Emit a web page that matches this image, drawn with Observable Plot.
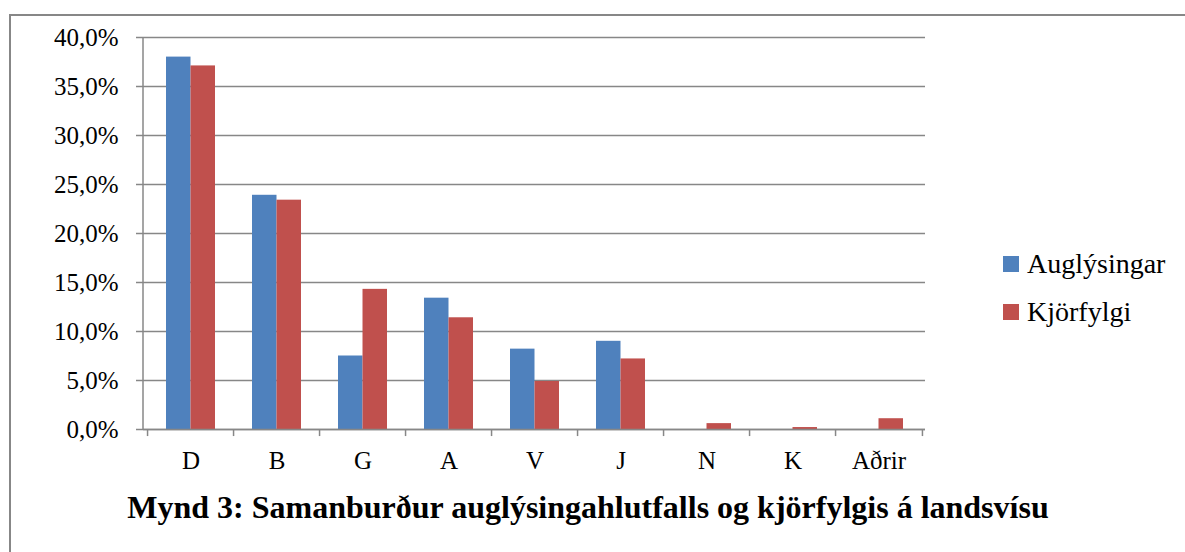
<!DOCTYPE html>
<html>
<head>
<meta charset="utf-8">
<script src="https://cdn.jsdelivr.net/npm/d3@7"></script>
<script src="https://cdn.jsdelivr.net/npm/@observablehq/plot@0.6"></script>
<style>
  html, body { margin: 0; padding: 0; background: #fff; }
  #wrap { position: relative; width: 1185px; height: 552px; overflow: hidden; font-family: "Liberation Serif", serif; }
  #frame { position: absolute; left: 9px; top: 14px; width: 1300px; height: 700px; border-left: 2px solid #878787; border-top: 2px solid #878787; }
  #chart { position: absolute; left: 0; top: 0; }
  #chart svg, #chart svg text { font-family: "Liberation Serif", serif !important; }
  #legend { position: absolute; left: 1003px; top: 240px; font-size: 28px; color: #000; font-family: "Liberation Serif", serif; }
  .li { display: flex; align-items: center; height: 48px; }
  .sw { width: 16px; height: 16px; margin-right: 8px; }
  #title { position: absolute; left: 0; width: 1176px; top: 489px; text-align: center; font-weight: bold; font-size: 32px; color: #000; font-family: "Liberation Serif", serif; }
</style>
</head>
<body>
<div id="wrap">
  <div id="frame"></div>
  <div id="chart"></div>
  <div id="legend"></div>
  <div id="title"></div>
</div>
<script>
const categories = ["D", "B", "G", "A", "V", "J", "N", "K", "Aðrir"];
const auglysingar = [0.380, 0.239, 0.075, 0.134, 0.082, 0.090, 0.000, 0.000, 0.000];
const kjorfylgi   = [0.371, 0.234, 0.143, 0.114, 0.049, 0.072, 0.006, 0.002, 0.011];
const seriesNames = ["Auglýsingar", "Kjörfylgi"];
const seriesColors = ["#4F81BD", "#C0504D"];
const yTicks = [0, 0.05, 0.10, 0.15, 0.20, 0.25, 0.30, 0.35, 0.40];
const titleText = "Mynd 3: Samanburður auglýsingahlutfalls og kjörfylgis á landsvísu";

const rows = categories.map((c, i) => ({cat: c, a: auglysingar[i], k: kjorfylgi[i]}));
const W = 1185, H = 480;
const mL = 143, mR = 260, mT = 37, mB = 51;
const step = (W - mL - mR) / categories.length;
const pInner = 0.436;
const groupW = step * (1 - pInner);
const gray = "#878787";
const fmt = d => (d * 100).toFixed(1).replace(".", ",") + "%";

const chart = Plot.plot({
  width: W, height: H,
  marginLeft: mL, marginRight: mR, marginTop: mT, marginBottom: mB,
  style: {fontFamily: "Liberation Serif, serif", fontSize: "25px", color: "#000", background: "transparent"},
  x: {domain: categories, paddingInner: pInner, paddingOuter: pInner / 2, align: 0.5, label: null},
  y: {domain: [0, 0.40], label: null},
  marks: [
    Plot.gridY(yTicks, {stroke: gray, strokeOpacity: 1, strokeWidth: 1.5}),
    Plot.barY(rows, {x: "cat", y: "a", fill: seriesColors[0], insetRight: groupW / 2}),
    Plot.barY(rows, {x: "cat", y: "k", fill: seriesColors[1], insetLeft: groupW / 2}),
    Plot.ruleY([0], {stroke: gray, strokeWidth: 1.5}),
    Plot.axisY({ticks: yTicks, tickFormat: fmt, tickSize: 7, tickPadding: 18, stroke: gray, strokeWidth: 1.5, label: null, fontSize: 25}),
    Plot.ruleX(categories, {x: d => d, dx: -step / 2, y1: 0, y2: -0.0072, stroke: gray, strokeWidth: 1.5}),
    Plot.ruleX([categories[categories.length - 1]], {x: d => d, dx: step / 2, y1: 0, y2: -0.0072, stroke: gray, strokeWidth: 1.5}),
    Plot.axisX({tickSize: 0, tickPadding: 22, label: null, fontSize: 25})
  ]
});
document.getElementById("chart").appendChild(chart);
const svg = d3.select(chart);
svg.append("line").attr("x1", mL).attr("x2", mL).attr("y1", mT).attr("y2", H - mB).attr("stroke", gray).attr("stroke-width", 1.5);

const legend = d3.select("#legend");
seriesNames.forEach((n, i) => {
  const row = legend.append("div").attr("class", "li");
  row.append("div").attr("class", "sw").style("background", seriesColors[i]);
  row.append("span").text(n);
});
document.getElementById("title").textContent = titleText;
</script>
</body>
</html>
